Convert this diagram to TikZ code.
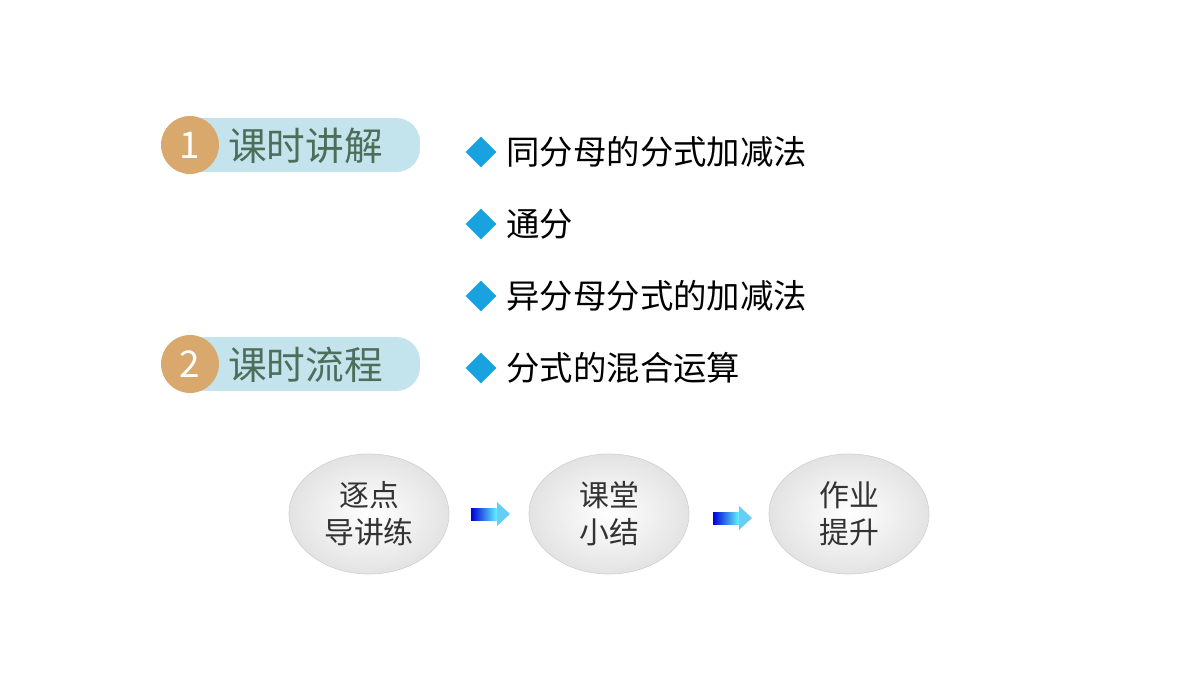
\documentclass[tikz,border=0pt]{standalone}
\usepackage{fontspec}
\setmainfont{Noto Sans CJK SC}
\usepackage{tikz}
\usetikzlibrary{positioning,shapes.geometric}
\definecolor{pillblue}{HTML}{C3E4EC}
\definecolor{numorange}{HTML}{D8A86C}
\definecolor{titlegreen}{HTML}{4E6E5C}
\definecolor{bulletblue}{HTML}{18A3E0}
\tikzset{
  pill/.style={fill=pillblue, rounded corners=13.5pt, minimum width=5cm, minimum height=1.08cm},
  numdot/.style={circle, fill=numorange, minimum size=1.16cm, text=white, font=\fontsize{21}{21}\selectfont},
  title/.style={text=titlegreen, font=\fontsize{22}{22}\selectfont, anchor=west},
  item/.style={anchor=west, font=\fontsize{19}{19}\selectfont},
  bullet/.style={diamond, fill=bulletblue, minimum size=0.62cm, inner sep=0pt},
  stage/.style={ellipse, draw=gray!35, inner color=white, outer color=gray!22,
    minimum width=3.2cm, minimum height=2.4cm, align=center,
    font=\fontsize{17}{21}\selectfont, text=black!80},
  flow/.style={-{Triangle[length=5pt,width=10pt]}, line width=5pt, left color=blue!80!black, right color=cyan!70}
}
\begin{document}
\begin{tikzpicture}[x=0.02cm,y=-0.02cm]
  \useasboundingbox (0,0) rectangle (1200,675);
  % section headers
  \node[pill] (p1) at (295,145) {};
  \node[numdot] (n1) at (190,145) {1};
  \node[title] (t1) at (222,146) {课时讲解};
  \node[pill] (p2) at (295,364) {};
  \node[numdot] (n2) at (190,364) {2};
  \node[title] (t2) at (222,365) {课时流程};
  % topic list
  \foreach \y/\txt [count=\i] in {152/同分母的分式加减法, 224/通分, 296/异分母分式的加减法, 368/分式的混合运算} {
    \node[bullet] (b\i) at (481,\y) {};
    \node[item, right=2pt of b\i] (i\i) {\txt};
  }
  % lesson flow
  \node[stage] (s1) at (369,514) {逐点\\导讲练};
  \node[stage] (s2) at (609,514) {课堂\\小结};
  \node[stage] (s3) at (849,514) {作业\\提升};
  \fill[left color=blue!85!black, right color=cyan!60] (471,508) rectangle (498,520);
  \fill[cyan!60] (497,502) -- (510,514) -- (497,526) -- cycle;
  \fill[left color=blue!85!black, right color=cyan!60] (713,512) rectangle (740,524);
  \fill[cyan!60] (739,506) -- (752,518) -- (739,530) -- cycle;
\end{tikzpicture}
\end{document}
